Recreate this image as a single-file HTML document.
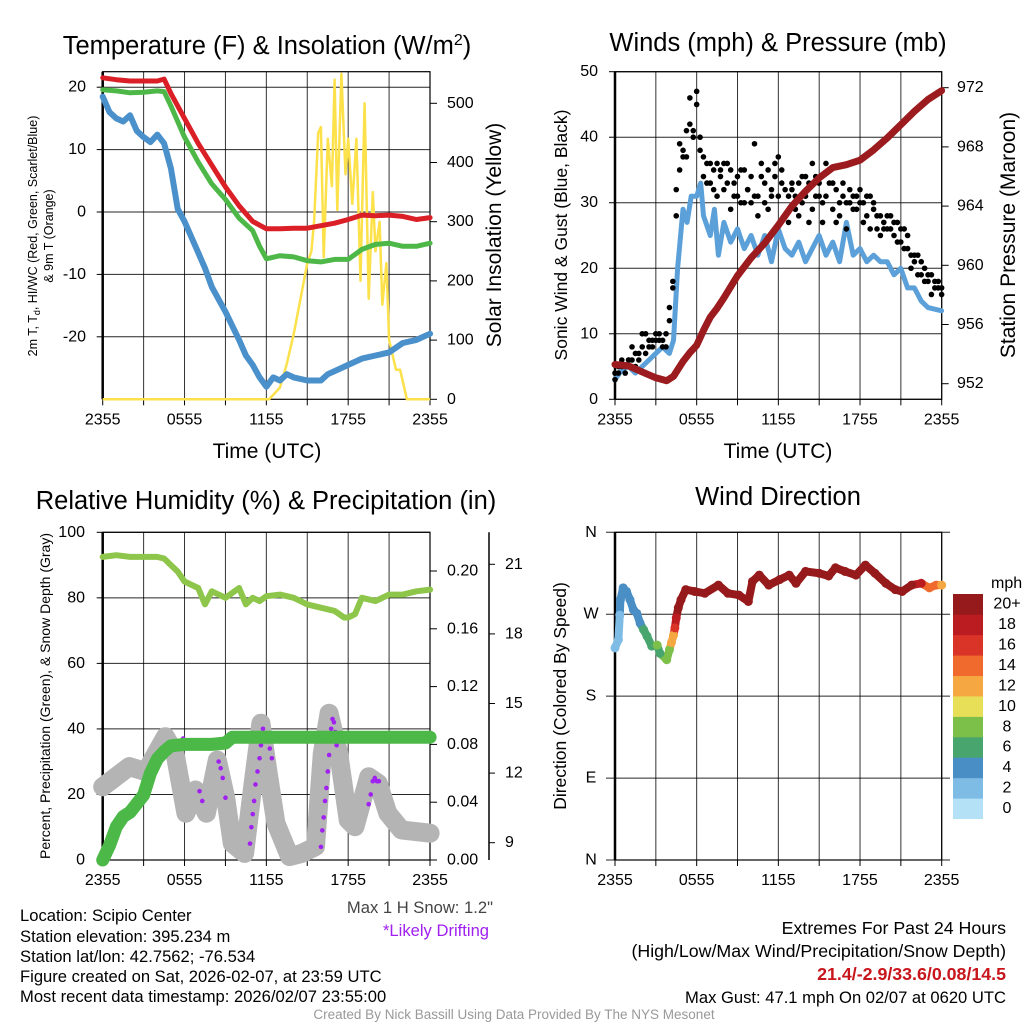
<!DOCTYPE html>
<html><head><meta charset="utf-8"><title>Mesonet Station Meteogram</title>
<style>
html,body{margin:0;padding:0;background:#fff;}
svg{display:block;font-family:"Liberation Sans",sans-serif;}
</style></head>
<body>
<svg id="fig" xmlns="http://www.w3.org/2000/svg" width="1024" height="1024" viewBox="0 0 1024 1024">
<rect width="1024" height="1024" fill="#fff"/>
<text x="267" y="54" font-size="25.5" text-anchor="middle">Temperature (F) &amp; Insolation (W/m<tspan dy="-9" font-size="16">2</tspan><tspan dy="9">)</tspan></text>
<text x="778" y="51" font-size="25.5" text-anchor="middle">Winds (mph) &amp; Pressure (mb)</text>
<text x="266" y="509" font-size="25.5" text-anchor="middle">Relative Humidity (%) &amp; Precipitation (in)</text>
<text x="778" y="505" font-size="25.5" text-anchor="middle">Wind Direction</text>
<text x="267" y="458" font-size="21" text-anchor="middle">Time (UTC)</text>
<text x="778" y="458" font-size="21" text-anchor="middle">Time (UTC)</text>
<text transform="translate(37,236) rotate(-90)" font-size="12.5" text-anchor="middle">2m T, T<tspan dy="3" font-size="9">d</tspan><tspan dy="-3">, HI/WC (Red, Green, Scarlet/Blue)</tspan></text>
<text transform="translate(53,236) rotate(-90)" font-size="12.5" text-anchor="middle">&amp; 9m T (Orange)</text>
<text transform="translate(501,235) rotate(-90)" font-size="21" text-anchor="middle">Solar Insolation (Yellow)</text>
<text transform="translate(567,235) rotate(-90)" font-size="17.5" text-anchor="middle">Sonic Wind &amp; Gust (Blue, Black)</text>
<text transform="translate(1015,235) rotate(-90)" font-size="21" text-anchor="middle">Station Pressure (Maroon)</text>
<text transform="translate(50,696) rotate(-90)" font-size="14" text-anchor="middle">Percent, Precipitation (Green), &amp; Snow Depth (Gray)</text>
<text transform="translate(566,696) rotate(-90)" font-size="17.5" text-anchor="middle">Direction (Colored By Speed)</text>
<g font-size="16.6">
<text x="20" y="921">Location: Scipio Center</text>
<text x="20" y="942">Station elevation: 395.234 m</text>
<text x="20" y="962">Station lat/lon: 42.7562; -76.534</text>
<text x="20" y="982">Figure created on Sat, 2026-02-07, at 23:59 UTC</text>
<text x="20" y="1002">Most recent data timestamp: 2026/02/07 23:55:00</text>
</g>
<text x="493" y="913" font-size="16.6" fill="#444" text-anchor="end">Max 1 H Snow: 1.2"</text>
<text x="436" y="936" font-size="16.6" fill="#A020F0" text-anchor="middle">*Likely Drifting</text>
<g font-size="17.8" text-anchor="end">
<text x="1006" y="934">Extremes For Past 24 Hours</text>
<text x="1006" y="957">(High/Low/Max Wind/Precipitation/Snow Depth)</text>
<text x="1006" y="980" fill="#C8161D" font-weight="bold">21.4/-2.9/33.6/0.08/14.5</text>
<text x="1006" y="1003" font-size="16.6">Max Gust: 47.1 mph On 02/07 at 0620 UTC</text>
</g>
<text x="514" y="1019" font-size="13.5" fill="#999" text-anchor="middle">Created By Nick Bassill Using Data Provided By The NYS Mesonet</text>
</svg>
<script>
// ---------- data ----------
const timeLabels = ["2355","0555","1155","1755","2355"];
const timeTicks = [0,6,12,18,24];
// Panel 1
const tempTimes = [0,1,2,3,4,4.5,5,6,7,8,9,10,11,12,13,14,15,16,17,18,19,20,21,22,23,24];
const tempRed   = [21.5,21.2,21,21,21,21.3,19,15,11,7.5,4,1,-1.5,-2.7,-2.7,-2.6,-2.6,-2.2,-1.8,-1.2,-0.5,-0.6,-0.5,-0.7,-1.2,-0.9];
const dewTimes  = [0,1,2,3,4,4.5,5,6,7,8,9,10,11,11.5,12,13,14,15,16,17,18,19,20,21,22,23,24];
const dewGreen  = [19.6,19.4,19.1,19.2,19.4,19.3,17,12,8,4.5,2,-1,-3,-5.5,-7.5,-7,-7.2,-7.8,-8,-7.6,-7.6,-6,-5.2,-5,-5.5,-5.5,-5];
const wcTimes   = [0,0.5,1,1.5,2,2.5,3,3.5,4,4.5,5,5.5,6,7,7.5,8,9,10,10.5,11,11.5,12,12.5,13,13.5,14,15,16,16.5,17,18,19,20,21,22,23,24];
const wcBlue    = [18.5,16,15,14.5,15.5,13,12,11.2,12.4,11,7,0.5,-1.5,-6.5,-9,-12,-16,-20.5,-23,-24.5,-26.5,-28,-26.5,-27,-26,-26.5,-27,-27,-26,-25.5,-24.5,-23.5,-23,-22.5,-21,-20.5,-19.5];
const solTimes  = [0,12.2,13,13.5,14,14.5,15,15.3,15.5,15.8,16,16.2,16.5,16.8,17,17.2,17.5,17.8,18,18.3,18.6,18.9,19.2,19.5,19.8,20,20.3,20.5,20.8,21,21.5,21.8,22.3,24];
const solYellow = [0,0,20,60,110,170,230,250,300,450,460,240,440,360,540,320,550,380,440,330,440,200,500,170,350,250,300,160,230,100,50,50,0,0];
const tempTickVals = [20,10,0,-10,-20];
const solTickVals = [0,100,200,300,400,500];
// Panel 2
const windTimes = [0,0.5,1,1.5,2,2.5,3,3.5,4,4.3,4.6,5,5.3,5.6,6,6.3,6.5,7,7.3,7.6,8,8.5,9,9.5,10,10.5,11,11.5,12,12.5,13,13.5,14,14.5,15,15.5,16,16.5,17,17.5,18,18.5,19,19.5,20,20.5,21,21.5,22,22.5,23,24];
const windBlue  = [3,4.5,5,4,5,6,7,8,7,9,20,29,27,31,31,33,28,25,29,22,27,24,26,23,25,22,25,21,26,23,22,24,21,23,25,22,24,21,27,22,23,21,22,21,21,19,20,17,17,15,14,13.5];
const gustA = [3,4,5,5,6,6,5,7, 8,10,8,9,10,9,8,10, 14,17,28,35,37,41,46,41, 47,40,34,36,33,35,36,34, 36,33,35,31,34,30,35,32, 34,39,31,34,30,35,32,34, 37,33,28,31,32,29,33,30, 34,27,36,31,33,30,36,33, 29,32,28,31,30,32,29,31, 30,27,31,26,30,28,25,27, 28,26,25,27,24,26,23,22, 21,22,19,20,18,19,17,18,16];
const gustB = [4,5,6,4,6,8,7,6, 10,7,9,8,9,10,9,8, 12,18,32,39,38,37,42,40, 45,38,37,33,36,32,31,35, 32,36,29,33,31,35,30,32, 30,31,28,36,33,29,31,36, 31,35,32,27,33,31,28,34, 31,33,29,34,31,27,31,35, 33,27,30,33,26,30,31,29, 32,30,28,31,29,26,28,26, 26,28,27,24,26,23,25,20, 22,19,21,18,19,16,18,17,17];
const gustStep = 0.25;
const presTimes = [0,1,2,3,3.8,4.3,5,5.5,6,6.5,7,7.5,8,9,10,11,12,13,14,15,16,17,18,19,20,21,22,23,24];
const presMaroon = [953.3,953.2,952.8,952.4,952.2,952.5,953.5,954.1,954.6,955.6,956.5,957.1,957.8,959.3,960.5,961.5,962.7,964,965,965.9,966.6,966.8,967.1,967.8,968.6,969.5,970.4,971.2,971.8];
const windTickVals = [0,10,20,30,40,50];
const presTickVals = [952,956,960,964,968,972];
// Panel 3
const rhTimes = [0,1,2,3,4,4.5,5,5.5,6,7,7.5,8,9,10,10.5,11,11.5,12,13,14,15,16,17,17.7,18,18.5,19,20,21,22,23,24];
const rhPct   = [92.5,93,92.5,92.5,92.5,92,90,88,85,83,78,82,80,83,78,80,79,80.5,81,80,78,77,76,74,74,75,80,79,81,81,82,82.5];
const pcpTimes = [0,0.5,1,1.5,2,3,3.5,4,4.5,5,6,7,8,9,9.5,10,24];
const pcpIn    = [0,0.01,0.023,0.03,0.033,0.045,0.06,0.07,0.075,0.079,0.08,0.08,0.08,0.081,0.085,0.085,0.085];
const snowTimes = [0,1.95,3.17,4.6,5.3,6.1,6.8,7.6,8.4,9.0,9.5,10.4,11,11.6,12.1,12.7,13.7,14.6,15.6,16.1,16.6,17.3,18.0,18.5,19.5,20.2,20.9,21.9,24];
const snowIn    = [11.41,12.28,12.06,13.57,12.85,10.27,11.27,10.27,12.56,10.98,8.97,8.54,11.41,14.15,12.13,9.84,8.40,8.54,8.83,12.85,14.58,12.85,9.98,9.69,11.84,11.56,10.27,9.55,9.41];
const driftTimes = [5.9,7.1,7.3,8.5,8.65,8.8,9.0,10.8,10.9,11.0,11.1,11.2,11.35,11.5,11.6,11.75,12.1,12.25,12.4,16.0,16.1,16.2,16.3,16.4,16.5,16.6,16.75,16.85,16.95,17.05,17.15,19.5,19.65,19.8,19.95,20.1,20.25];
const driftIn = [13.49,11.22,10.8,12.5,12.21,11.79,10.94,8.96,9.67,10.23,10.8,11.51,12.07,12.64,13.2,13.91,13.63,13.06,12.64,8.82,9.53,10.09,10.8,11.36,12.07,12.78,13.91,14.33,14.19,13.77,13.2,10.66,11.08,11.65,11.79,11.65,11.65];
const rhTickVals = [0,20,40,60,80,100];
const pcpTickVals = [0,0.04,0.08,0.12,0.16,0.20];
const snowTickVals = [9,12,15,18,21];
// Panel 4
const dirTimes = [0,0.25,0.35,0.4,0.6,0.85,1.1,1.35,1.6,1.85,2.1,2.35,2.7,3.1,3.3,3.8,4.0,4.15,4.3,4.4,4.5,4.65,4.85,5.2,5.85,6.6,7.6,8.3,9.1,9.8,10.1,10.6,11.3,12.1,12.8,13.3,14.0,15.0,15.7,16.2,16.9,17.7,18.4,19.1,19.9,20.6,21.1,21.8,22.5,23.1,23.6,24];
const dirDeg   = [233,242,269,286,299,295,286,275,271,260,253,246,235,236,227,220,231,239,247,255,266,277,286,297,295,293,302,293,291,284,306,313,302,308,313,304,317,315,312,321,317,313,324,315,304,297,295,302,304,299,302,302];
const dirSpd   = [2,2,2,4,4,4,4,4,4,4,6,6,6,8,6,8,8,12,12,16,18,20,20,20,20,20,20,20,20,20,20,20,20,20,20,20,20,20,20,20,20,20,20,20,20,20,20,20,18,14,14,12];
const dirLabels = ["N","E","S","W","N"];
const dirTickVals = [0,90,180,270,360];
const cbLabels = ["0","2","4","6","8","10","12","14","16","18","20+"];
const cbColors = ["#B4E1F6","#7EBBE5","#4A8EC6","#48A56E","#7CC04A","#E6DF57","#F5A742","#EF6A2C","#DA3327","#BA1C22","#961A1B"];

// ---------- scales ----------
const NS = "http://www.w3.org/2000/svg";
const svg = document.getElementById("fig");
function mk(tag, attrs, parent){ const e=document.createElementNS(NS,tag); for(const k in attrs) e.setAttribute(k,attrs[k]); (parent||svg).appendChild(e); return e; }
const x1 = t => 102.7 + t*13.64;
const y1 = f => 212 - f*6.24;
const s1 = w => 399.3 - w*0.592;
const x2 = t => 615 + t*13.61;
const y2 = m => 399.3 - m*6.552;
const p2 = mb => 87.7 + (972-mb)*14.8;
const y3 = p => 860 - p*3.277;
const r3 = v => 860 - v*1445;
const s3 = v => 842.7 - (v-9)*23.2;
const y4 = d => 860 - d*0.9103;
function colorFor(sp){ let i=Math.min(10,Math.max(0,Math.round(sp/2))); return cbColors[i]; }
function pts(ts, vs, fx, fy){ return ts.map((t,i)=>fx(t).toFixed(1)+","+fy(vs[i]).toFixed(1)).join(" "); }

// ---------- generic panel frame ----------
function frame(name, x0, x1p, yTop, yBot, hLines, tickX){
  const g = mk("g",{});
  
  
  for(let k=0;k<=8;k++){
    const xx = x0 + (x1p-x0)*k/8;
    const l = mk("line",{x1:xx,y1:yTop,x2:xx,y2:yBot,stroke:"#000","stroke-width":1,"stroke-opacity":0.8},g);
    
    
    const tk = mk("line",{x1:xx,y1:yBot,x2:xx,y2:yBot+6,stroke:"#000","stroke-width":1},g);
    
    
  }
  hLines.forEach(yy=>{
    const l = mk("line",{x1:x0,y1:yy,x2:x1p,y2:yy,stroke:"#000","stroke-width":1,"stroke-opacity":0.85},g);
    
    
  });
  const b = mk("rect",{x:x0,y:yTop,width:x1p-x0,height:yBot-yTop,fill:"none",stroke:"#000","stroke-width":1.2},g);
  
  
  const la = mk("line",{x1:x0,y1:yTop,x2:x0,y2:yBot,stroke:"#000","stroke-width":2.5},g);
  
  
  timeTicks.forEach((t,i)=>{
    const tx = mk("text",{x:tickX(t),y:yBot+25,"font-size":16,"text-anchor":"middle"},g);
    tx.textContent = timeLabels[i];
    
    
  });
  return g;
}
function label(g, name, x, y, txt, anchor, size){
  const t = mk("text",{x:x,y:y,"font-size":size||16,"text-anchor":anchor||"end","dominant-baseline":"central"},g);
  t.textContent = txt;
  
  
  return t;
}
function rtick(g, name, x, y, len){
  const l = mk("line",{x1:x,y1:y,x2:x+len,y2:y,stroke:"#000","stroke-width":1},g);
  
  
}

// ---------- Panel 1 ----------
const g1 = frame("temp-panel",102.7,430,71.7,399.3,tempTickVals.map(y1),x1);
tempTickVals.forEach(v=>{ label(g1,"temp-y-tick-label",86,y1(v),String(v)); rtick(g1,"temp-y-tick",96.7,y1(v),6); });
solTickVals.forEach(v=>{ label(g1,"solar-y-tick-label",447,s1(v),String(v),"start"); rtick(g1,"solar-y-tick",430,s1(v),7); });
const sol = mk("polyline",{points:pts(solTimes,solYellow,x1,s1),fill:"none",stroke:"#FCE14B","stroke-width":2.5,"stroke-linejoin":"round"});


const wc = mk("polyline",{points:pts(wcTimes,wcBlue,x1,y1),fill:"none",stroke:"#4A90CB","stroke-width":6,"stroke-linejoin":"round","stroke-linecap":"round"});


const td = mk("polyline",{points:pts(dewTimes,dewGreen,x1,y1),fill:"none",stroke:"#4DB848","stroke-width":5,"stroke-linejoin":"round","stroke-linecap":"round"});


const tt = mk("polyline",{points:pts(tempTimes,tempRed,x1,y1),fill:"none",stroke:"#DA1F26","stroke-width":5,"stroke-linejoin":"round","stroke-linecap":"round"});



// ---------- Panel 2 ----------
const g2 = frame("wind-panel",615,941.7,71.7,399.3,windTickVals.map(y2),x2);
windTickVals.forEach(v=>{ label(g2,"wind-y-tick-label",598,y2(v),String(v)); rtick(g2,"wind-y-tick",609,y2(v),6); });
presTickVals.forEach(v=>{ label(g2,"pressure-y-tick-label",957,p2(v),String(v),"start"); rtick(g2,"pressure-y-tick",941.7,p2(v),7); });
const wb = mk("polyline",{points:pts(windTimes,windBlue,x2,y2),fill:"none",stroke:"#5BA0D8","stroke-width":5,"stroke-linejoin":"round","stroke-linecap":"round"});


const gg = mk("g",{});


[gustA,gustB].forEach(arr=>arr.forEach((v,i)=>{
  const c = mk("circle",{cx:x2(i*gustStep),cy:y2(v),r:2.8,fill:"#000"},gg);
  
  
}));
const pm = mk("polyline",{points:pts(presTimes,presMaroon,x2,p2),fill:"none",stroke:"#9B1B1E","stroke-width":7,"stroke-linejoin":"round","stroke-linecap":"round"});



// ---------- Panel 3 ----------
const g3 = frame("humidity-panel",102.7,430,532.3,860,rhTickVals.map(y3),x1);
rhTickVals.forEach(v=>{ label(g3,"rh-y-tick-label",85,y3(v),String(v)); rtick(g3,"rh-y-tick",96.7,y3(v),6); });
pcpTickVals.forEach(v=>{ label(g3,"precip-y-tick-label",447,r3(v),v.toFixed(2),"start"); rtick(g3,"precip-y-tick",430,r3(v),7); });
const sax = mk("line",{x1:489,y1:532.3,x2:489,y2:860,stroke:"#000","stroke-width":1.5},g3);


snowTickVals.forEach(v=>{ label(g3,"snow-y-tick-label",505,s3(v),String(v),"start"); rtick(g3,"snow-y-tick",489,s3(v),6); });
const sg = mk("polyline",{points:pts(snowTimes,snowIn,x1,s3),fill:"none",stroke:"#B4B4B4","stroke-width":19,"stroke-linejoin":"round","stroke-linecap":"round"});


const dg = mk("g",{});


driftTimes.forEach((t,i)=>{
  const c = mk("circle",{cx:x1(t),cy:s3(driftIn[i]),r:2.3,fill:"#A020F0"},dg);
  
  
});
const pc = mk("polyline",{points:pts(pcpTimes,pcpIn,x1,r3),fill:"none",stroke:"#4CB848","stroke-width":13,"stroke-linejoin":"round","stroke-linecap":"round"});


const rh = mk("polyline",{points:pts(rhTimes,rhPct,x1,y3),fill:"none",stroke:"#8DC64A","stroke-width":6,"stroke-linejoin":"round","stroke-linecap":"round"});



// ---------- Panel 4 ----------
const g4 = frame("direction-panel",615,941.7,532.3,860,[],x2);
dirTickVals.forEach((v,i)=>{
  const l = mk("line",{x1:606,y1:y4(v),x2:950,y2:y4(v),stroke:"#000","stroke-width":1,"stroke-opacity":0.85},g4);
  
  
  label(g4,"direction-y-tick-label",591,y4(v),dirLabels[i],"middle");
});
const dd = mk("g",{});


for(let i=1;i<dirTimes.length;i++){
  const s = mk("line",{x1:x2(dirTimes[i-1]),y1:y4(dirDeg[i-1]),x2:x2(dirTimes[i]),y2:y4(dirDeg[i]),stroke:colorFor(dirSpd[i]),"stroke-width":8,"stroke-linecap":"round"},dd);
  
  
}
dirTimes.forEach((t,i)=>{
  const c = mk("circle",{cx:x2(t),cy:y4(dirDeg[i]),r:4.5,fill:colorFor(dirSpd[i])},dd);
  
  
});
// colorbar
const cb = mk("g",{});


const cbTitle = mk("text",{x:991,y:588,"font-size":16},cb);
cbTitle.textContent = "mph";


const boxH = (818.7-594)/11;
cbColors.forEach((c,i)=>{
  const yy = 818.7 - (i+1)*boxH;
  const r = mk("rect",{x:953,y:yy,width:30,height:boxH+0.3,fill:c},cb);
  
  
  label(cb,"colorbar-label",1007,yy+boxH/2,cbLabels[i],"middle");
});
</script>
</body></html>
